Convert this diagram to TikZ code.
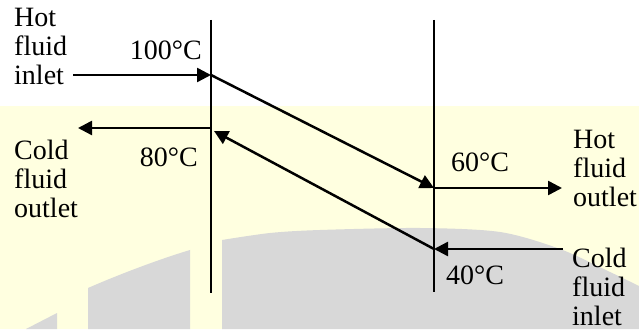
\documentclass[tikz,border=0pt]{standalone}
\usepackage{fontspec}
\setmainfont{Liberation Serif}
\usetikzlibrary{arrows.meta}
\definecolor{bgyellow}{RGB}{255,255,224}
\definecolor{wmgrey}{RGB}{216,216,216}
\tikzset{
  arr/.style={line width=2.5pt,-{Triangle[length=14pt,width=14pt]}},
  wall/.style={line width=1.3pt},
  lbl/.style={inner sep=0pt,align=left,font=\fontsize{28}{29}\selectfont},
}
\begin{document}
\begin{tikzpicture}[x=1pt,y=1pt]
\useasboundingbox (0,0) rectangle (639,329);
% background
\fill[white] (0,0) rectangle (639,329);
\fill[bgyellow] (0,0) rectangle (639,223);
% watermark shapes
\fill[wmgrey] (26,0) -- (57,16) -- (57,0) -- cycle;
\fill[wmgrey] (88,0) -- (88,41) .. controls (120,55) and (160,70) .. (190,79) -- (190,0) -- cycle;
\fill[wmgrey] (222,0) -- plot[smooth] coordinates {(222,89) (270,96) (320,99) (420,101) (500,97) (560,80) (610,57) (639,43)} -- (639,0) -- cycle;
% coordinates
\coordinate (Ltop) at (211,309);
\coordinate (Lbot) at (211,36);
\coordinate (Rtop) at (434,309);
\coordinate (Rbot) at (434,37);
\coordinate (A1) at (211,254);
\coordinate (B1) at (434,141);
\coordinate (B2) at (434,80);
\coordinate (A2) at (211,201);
\coordinate (A2t) at (214,198);
\coordinate (hin) at (73,254);
\coordinate (hout) at (562,141);
\coordinate (cin) at (563,80);
\coordinate (cout) at (78,201);
% walls
\draw[wall] (Ltop) -- (Lbot);
\draw[wall] (Rtop) -- (Rbot);
% flows
\draw[arr] (hin) -- (A1);
\draw[arr] (A1) -- (B1);
\draw[arr] (B1) -- (hout);
\draw[arr] (cin) -- (B2);
\draw[arr] (B2) -- (A2t);
\draw[arr] (A2) -- (cout);
% labels (base anchor = baseline of last line)
\node[lbl,anchor=base west] (hotin) at (14,244) {Hot\\fluid\\inlet};
\node[lbl,anchor=base west] (coldout) at (14,111) {Cold\\fluid\\outlet};
\node[lbl,anchor=base west] (hotout) at (573,122) {Hot\\fluid\\outlet};
\node[lbl,anchor=base west] (coldin) at (572,4) {Cold\\fluid\\inlet};
\node[lbl,anchor=base east] (t100) at (202,269) {100°C};
\node[lbl,anchor=base east] (t80) at (198,162) {80°C};
\node[lbl,anchor=base west] (t60) at (451,157) {60°C};
\node[lbl,anchor=base west] (t40) at (446,44) {40°C};
\end{tikzpicture}
\end{document}
